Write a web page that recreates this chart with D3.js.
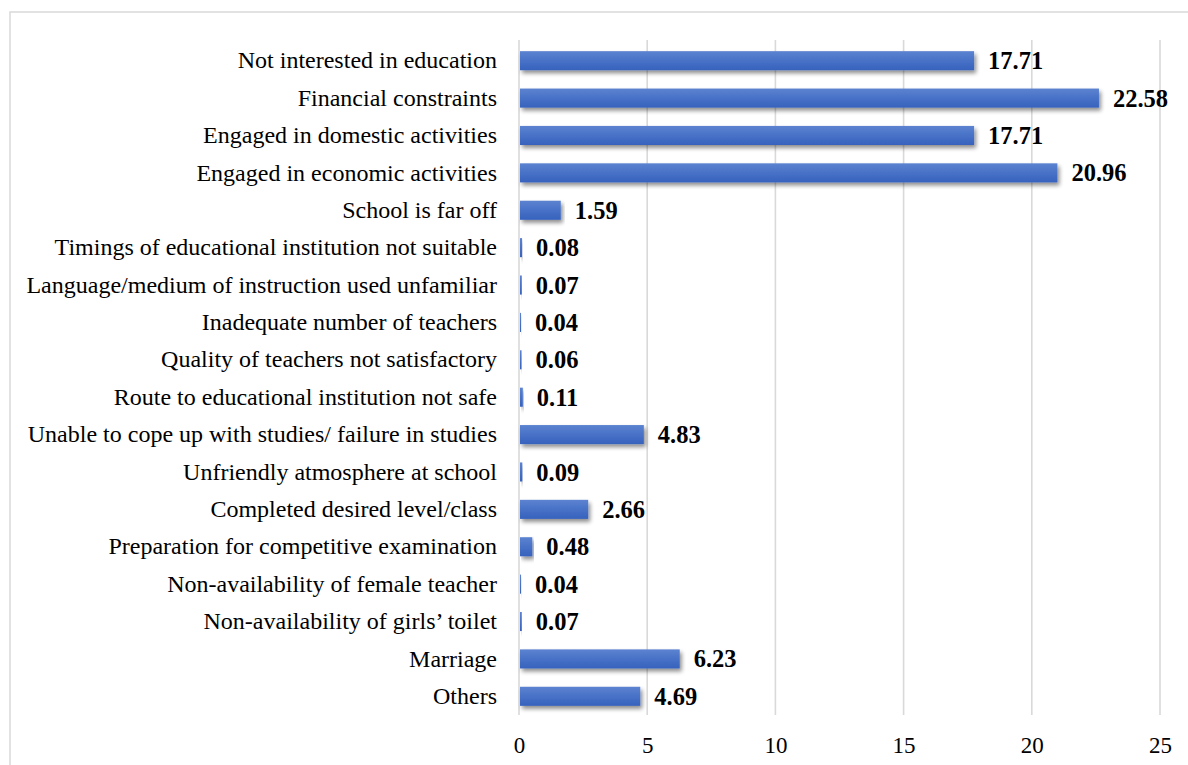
<!DOCTYPE html>
<html>
<head>
<meta charset="utf-8">
<script src="https://cdn.jsdelivr.net/npm/d3@7"></script>
<style>
  html, body { margin: 0; padding: 0; background: #fff; }
  svg { display: block; }
</style>
</head>
<body>
<svg id="chart" width="1188" height="765"></svg>
<script>
// Reasons for dropping out / not attending education (%)
const categories = [
  "Not interested in education",
  "Financial constraints",
  "Engaged in domestic activities",
  "Engaged in economic activities",
  "School is far off",
  "Timings of educational institution not suitable",
  "Language/medium of instruction used unfamiliar",
  "Inadequate number of teachers",
  "Quality of teachers not satisfactory",
  "Route to educational institution not safe",
  "Unable to cope up with studies/ failure in studies",
  "Unfriendly atmosphere at school",
  "Completed desired level/class",
  "Preparation for competitive examination",
  "Non-availability of female teacher",
  "Non-availability of girls\u2019 toilet",
  "Marriage",
  "Others"
];
const values = [17.71, 22.58, 17.71, 20.96, 1.59, 0.08, 0.07, 0.04, 0.06, 0.11,
                4.83, 0.09, 2.66, 0.48, 0.04, 0.07, 6.23, 4.69];
const tickValues = [0, 5, 10, 15, 20, 25];

const svg = d3.select("#chart");
const W = 1188, H = 765;
const plot = { left: 519, right: 1160, top: 42, bottom: 715 };
const font = "'Liberation Serif', 'Times New Roman', serif";

// outer frame
svg.append("rect")
  .attr("x", 10).attr("y", 12)
  .attr("width", W + 10).attr("height", H + 10)
  .attr("fill", "#fff")
  .attr("stroke", "#d9d9d9").attr("stroke-width", 1.5);

const x = d3.scaleLinear().domain([0, 25]).range([plot.left, plot.right]);
const y = d3.scaleBand().domain(categories).range([plot.top, plot.bottom]).paddingInner(0.49).paddingOuter(0.245);

const defs = svg.append("defs");
const grad = defs.append("linearGradient").attr("id", "barGrad")
  .attr("x1", 0).attr("y1", 0).attr("x2", 0).attr("y2", 1);
grad.append("stop").attr("offset", "0%").attr("stop-color", "#5c83d0");
grad.append("stop").attr("offset", "55%").attr("stop-color", "#4670c6");
grad.append("stop").attr("offset", "100%").attr("stop-color", "#3762bd");

const shadow = defs.append("filter").attr("id", "barShadow")
  .attr("x", "-5%").attr("y", "-30%").attr("width", "115%").attr("height", "190%");
shadow.append("feGaussianBlur").attr("in", "SourceAlpha").attr("stdDeviation", 2.2).attr("result", "blur");
shadow.append("feOffset").attr("in", "blur").attr("dx", 2).attr("dy", 3).attr("result", "off");
shadow.append("feComponentTransfer").attr("in", "off").attr("result", "soft")
  .append("feFuncA").attr("type", "linear").attr("slope", 0.45);
const merge = shadow.append("feMerge");
merge.append("feMergeNode").attr("in", "soft");
merge.append("feMergeNode").attr("in", "SourceGraphic");

// vertical gridlines
svg.append("g")
  .selectAll("line")
  .data(tickValues)
  .join("line")
  .attr("x1", d => x(d)).attr("x2", d => x(d))
  .attr("y1", plot.top - 2).attr("y2", plot.bottom)
  .attr("stroke", "#d9d9d9").attr("stroke-width", 1.6);

// x axis tick labels
const xAxis = d3.axisBottom(x).tickValues(tickValues).tickSize(0).tickPadding(0).tickFormat(d3.format("d"));
const gx = svg.append("g").attr("transform", `translate(0, ${plot.bottom + 38})`).call(xAxis);
gx.select(".domain").remove();
gx.selectAll("text")
  .attr("font-family", font).attr("font-size", 23).attr("fill", "#000")
  .attr("y", 0).attr("dy", 0);

// category labels
const yAxis = d3.axisLeft(y).tickSize(0).tickPadding(22);
const gy = svg.append("g").attr("transform", `translate(${plot.left}, 0)`).call(yAxis);
gy.select(".domain").remove();
gy.selectAll("text")
  .attr("font-family", font).attr("font-size", 24).attr("fill", "#000");

// bars
svg.append("g")
  .selectAll("rect")
  .data(values)
  .join("rect")
  .attr("x", x(0) + 1)
  .attr("y", (d, i) => y(categories[i]))
  .attr("width", d => Math.max(0.8, x(d) - x(0)))
  .attr("height", y.bandwidth())
  .attr("fill", "url(#barGrad)")
  .attr("filter", "url(#barShadow)");

// value labels
svg.append("g")
  .selectAll("text")
  .data(values)
  .join("text")
  .attr("x", d => x(d) + 15)
  .attr("y", (d, i) => y(categories[i]) + y.bandwidth() / 2)
  .attr("dy", "0.35em")
  .attr("font-family", font).attr("font-size", 24.5).attr("font-weight", "bold")
  .attr("fill", "#000")
  .text(d => d.toFixed(2));
</script>
</body>
</html>
